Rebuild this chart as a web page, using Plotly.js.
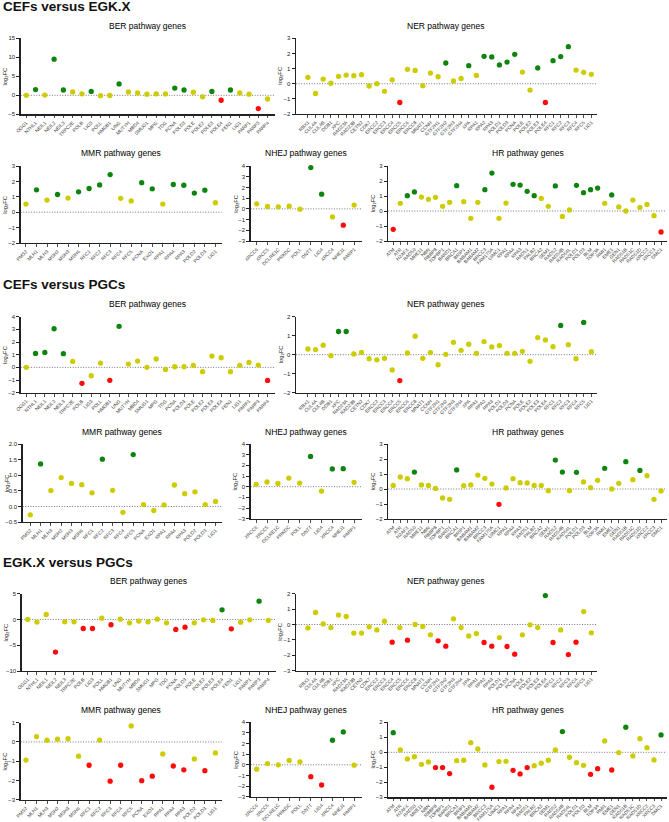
<!DOCTYPE html>
<html><head><meta charset="utf-8">
<script src="https://cdn.plot.ly/plotly-3.0.1.min.js"></script>
<style>html,body{margin:0;padding:0;background:#fff;}#chart{width:669px;height:822px;}</style>
</head><body><div id="chart"></div>
<script>
// ---------------- DATA ----------------
const berGenes = ['OGG1','NTHL1','NEIL1','NEIL2','NEIL3','TRPC2E','POLB','LIG3','POLL','HMGB1','UNG','MUTYH','MBD4','SMUG1','MPG','TDG','PCNA','POLD3','POLE','POLE2','POLE3','POLE4','FEN1','LIG1','PARP1','PARP3','PARP4'];
const nerGenes = ['RBX1','CUL4A','CUL4B','DDB1','XPC','RAD23A','RAD23B','CETN2','CDK7','ERCC2','ERCC3','ERCC4','ERCC5','ERCC6','ERCC8','MNAT1','CCNH','GTF2H1','GTF2H2','GTF2H3','GTF2H4','XPA','RPA1','RPA2','RPA3','POLD1','POLD3','PCNA','POLE','POLE2','POLE3','POLE4','RFC1','RFC2','RFC3','RFC4','RFC5','LIG1'];
const mmrGenes = ['PMS2','MLH1','MLH3','MSH2','MSH3','MSH6','RFC1','RFC2','RFC3','RFC4','RFC5','PCNA','EXO1','RPA1','RPA4','RPA3','POLD2','POLD3','LIG1'];
const nhejGenes = ['XRCC6','XRCC5','DCLRE1C','PRKDC','POLL','DNTT','LIG4','XRCC4','NHEJ1','PARP1'];
const hrGenes = ['ATM','ATR','H2AFX','RAD50','MRE11','NBN','RBBP8','TOPBP1','BARD1','BRCA1','BRIP1','BABAM1','BABAM2','BRCC3','FAM175A','UIMC1','RPA1','RPA4','RPA3','RAD51','PALB2','BRCA2','SEM1','RAD52','RAD54B','RAD54L','POLD1','POLD3','BLM','TOP3A','RMI1','EME1','GEN1','RAD51B','RAD51C','RAD51D','XRCC2','XRCC3','DMC1'];

// CEFs versus EGK.X
const berCefsEgk = [0.0,1.5,0.05,9.5,1.4,0.9,0.4,1.02,-0.1,-0.05,3.0,0.9,0.6,0.3,0.4,0.35,1.9,1.4,0.8,-0.4,1.03,-1.3,1.4,0.6,0.3,-3.5,-0.97];
const nerCefsEgk = [0.42,-0.64,0.31,0.03,0.49,0.57,0.53,0.6,-0.15,0.0,-0.5,0.26,-1.24,0.95,0.88,-0.13,0.7,0.46,1.37,0.18,0.35,1.19,0.55,1.81,1.77,1.24,1.43,1.94,0.77,-0.42,1.04,-1.24,1.52,1.79,2.45,0.9,0.75,0.62];
const mmrCefsEgk = [0.53,1.45,0.79,1.15,0.92,1.32,1.54,1.77,2.44,0.9,0.73,1.92,1.52,0.53,1.8,1.75,1.24,1.43,0.62];
const nhejCefsEgk = [0.47,0.22,0.19,0.25,-0.03,3.85,1.37,-0.75,-1.52,0.35];
const hrCefsEgk = [-1.22,0.51,1.02,1.27,0.93,0.78,0.91,0.31,0.58,1.69,0.62,-0.49,0.58,1.42,2.53,-0.49,0.53,1.78,1.73,1.31,1.02,0.84,0.31,1.67,-0.36,0.07,1.71,1.22,1.42,1.53,0.51,1.07,0.27,0.0,0.73,0.24,0.44,-0.31,-1.4];

// CEFs versus PGCs
const berCefsPgc = [0.0,1.1,1.18,3.05,1.08,0.47,-1.26,-0.66,0.34,-1.02,3.24,0.26,0.5,0.0,0.66,-0.16,0.05,0.05,0.16,-0.34,0.89,0.76,-0.34,0.16,0.39,0.18,-1.03];
const nerCefsPgc = [0.3,0.27,0.5,-0.05,1.22,1.22,0.04,0.12,-0.21,-0.27,-0.19,-0.8,-1.36,0.09,0.97,-0.19,0.11,-0.53,0.02,0.65,0.23,0.55,0.07,0.69,0.41,0.48,0.07,0.07,0.18,-0.35,0.9,0.78,0.42,1.54,0.53,-0.21,1.7,0.16];
const mmrCefsPgc = [-0.27,1.37,0.51,0.93,0.74,0.7,0.44,1.52,0.52,-0.19,1.67,0.06,-0.13,0.05,0.69,0.41,0.47,0.06,0.16];
const nhejCefsPgc = [0.22,0.44,0.31,0.81,0.34,2.84,-0.41,1.66,1.69,0.41];
const hrCefsPgc = [0.24,0.8,0.69,1.13,0.27,0.24,0.04,-0.6,-0.69,1.27,0.22,0.27,0.93,0.71,0.33,-1.02,0.07,0.69,0.42,0.4,0.24,0.24,-0.11,1.93,1.13,-0.11,1.11,0.47,0.09,0.58,1.38,0.0,0.38,1.82,0.62,1.24,0.89,-0.69,-0.13];

// EGK.X versus PGCs
const berEgkPgc = [0.0,-0.5,0.97,-6.33,-0.45,-0.45,-1.75,-1.75,0.26,-1.03,0.06,-0.65,-0.32,-0.45,0.06,-0.65,-1.94,-1.49,-0.65,-0.06,-0.19,1.87,-1.81,-0.52,-0.06,3.55,-0.19];
const nerEgkPgc = [-0.22,0.78,0.04,-0.2,0.61,0.52,-0.56,-0.56,-0.15,-0.35,0.21,-1.15,-0.2,-1.02,0.0,-0.13,-0.67,-1.06,-1.41,0.37,-0.2,-0.74,-0.59,-1.17,-1.41,-0.85,-1.43,-1.93,-0.67,-0.02,-0.2,1.88,-1.17,-0.35,-1.95,-1.15,0.84,-0.54];
const mmrEgkPgc = [-0.94,0.28,0.09,0.14,0.17,-0.74,-1.21,0.1,-2.04,-1.21,0.83,-2.01,-1.78,-0.62,-1.25,-1.45,-0.88,-1.49,-0.57];
const nhejEgkPgc = [-0.41,0.12,0.0,0.41,0.28,-1.12,-1.9,2.31,3.09,-0.03];
const hrEgkPgc = [1.31,0.16,-0.44,-0.29,-0.8,-0.64,-1.02,-1.02,-1.42,-0.56,-0.53,0.64,0.22,-0.84,-2.33,-0.62,-0.6,-1.2,-1.44,-1.02,-0.89,-0.73,-0.53,0.16,1.38,-0.33,-0.69,-0.87,-1.47,-1.09,0.76,-1.18,-0.02,1.67,-0.24,0.91,0.31,-0.51,1.16];

const sectionTitles = ['CEFs versus EGK.X','CEFs versus PGCs','EGK.X versus PGCs'];
const yTitle = 'log\u2082FC';

// ---------------- LAYOUT ----------------
const W = 669, H = 822;
const FONT = 'Arial, "Liberation Sans", Helvetica, sans-serif';
const GREEN = '#0d850d', YELLOW = '#cccc00', RED = '#ff0a0a';
function colorOf(v){ return v >= 1 ? GREEN : (v <= -1 ? RED : YELLOW); }

// box: [xLeft, xRight, yTop, yBottom] in px
const panels = [
  {g:berGenes, v:berCefsEgk, t:'BER pathway genes', box:[20.7,275,38.3,114.3], yr:[-5,15], dt:5, xr:[-0.6,26.8]},
  {g:nerGenes, v:nerCefsEgk, t:'NER pathway genes', box:[296,596.7,38.3,114], yr:[-2,3], dt:1, xr:[-1.55,37.7]},
  {g:mmrGenes, v:mmrCefsEgk, t:'MMR pathway genes', box:[20.7,221.7,166,243], yr:[-2,3], dt:1, xr:[-0.5,18.6]},
  {g:nhejGenes, v:nhejCefsEgk, t:'NHEJ pathway genes', box:[250.7,361.7,166,241], yr:[-3,4], dt:1, xr:[-0.55,9.7]},
  {g:hrGenes, v:hrCefsEgk, t:'HR pathway genes', box:[388.3,666.7,166,241], yr:[-2,3], dt:1, xr:[-0.7,38.8]},
  {g:berGenes, v:berCefsPgc, t:'BER pathway genes', box:[20.7,275,316.7,392.7], yr:[-2,4], dt:1, xr:[-0.6,26.8]},
  {g:nerGenes, v:nerCefsPgc, t:'NER pathway genes', box:[296,596.7,316.7,392.7], yr:[-2,2], dt:1, xr:[-1.55,37.7]},
  {g:mmrGenes, v:mmrCefsPgc, t:'MMR pathway genes', box:[22.7,221.7,444.3,522], yr:[-0.5,2.0], dt:0.5, xr:[-0.74,18.6], fmt:'.1f'},
  {g:nhejGenes, v:nhejCefsPgc, t:'NHEJ pathway genes', box:[250.7,361.7,444,518.7], yr:[-3,4], dt:1, xr:[-0.5,9.7]},
  {g:hrGenes, v:hrCefsPgc, t:'HR pathway genes', box:[388.3,666.7,444,519], yr:[-2,3], dt:1, xr:[-0.7,38.8]},
  {g:berGenes, v:berEgkPgc, t:'BER pathway genes', box:[21.7,276,593.7,671], yr:[-10,5], dt:5, xr:[-0.65,26.83]},
  {g:nerGenes, v:nerEgkPgc, t:'NER pathway genes', box:[296,596.7,593.7,670.7], yr:[-3,2], dt:1, xr:[-1.55,37.7]},
  {g:mmrGenes, v:mmrEgkPgc, t:'MMR pathway genes', box:[20.7,221.7,722.7,799.7], yr:[-3,1], dt:1, xr:[-0.5,18.6]},
  {g:nhejGenes, v:nhejEgkPgc, t:'NHEJ pathway genes', box:[250.7,361.7,722.3,796.7], yr:[-3,4], dt:1, xr:[-0.55,9.7]},
  {g:hrGenes, v:hrEgkPgc, t:'HR pathway genes', box:[388.3,666.7,722.3,797.3], yr:[-3,2], dt:1, xr:[-0.7,38.8]}
];

const data = [];
const layout = {
  width: W, height: H, margin:{l:0,r:0,t:0,b:0},
  paper_bgcolor:'#fff', plot_bgcolor:'rgba(0,0,0,0)',
  showlegend:false, font:{family:FONT, color:'#111'},
  shapes:[], annotations:[]
};

panels.forEach((p, i) => {
  const k = i + 1;
  const xs = k === 1 ? '' : String(k);
  const [xl, xrp, yt, yb] = p.box;
  data.push({
    type:'scatter', mode:'markers', x:p.g, y:p.v,
    xaxis:'x'+xs, yaxis:'y'+xs,
    marker:{size:5.3, color:p.v.map(colorOf), line:{width:0}},
    hoverinfo:'x+y', cliponaxis:false
  });
  layout['xaxis'+xs] = {
    domain:[xl/W, xrp/W], anchor:'y'+xs, type:'category',
    categoryorder:'array', categoryarray:p.g, range:p.xr,
    tickmode:'array', tickvals:p.g, ticktext:p.g, tickangle:-45,
    tickfont:{size:4.8, color:'#444', family:FONT},
    ticks:'outside', ticklen:2.5, tickwidth:0.8, tickcolor:'#222',
    showline:true, linewidth:1.4, linecolor:'#222',
    showgrid:false, zeroline:false, fixedrange:true
  };
  layout['yaxis'+xs] = {
    domain:[1 - yb/H, 1 - yt/H], anchor:'x'+xs, range:p.yr,
    tickmode:'linear', tick0:0, dtick:p.dt, tickformat:p.fmt || '',
    tickfont:{size:6, color:'#222', family:FONT},
    ticks:'outside', ticklen:3, tickwidth:1, tickcolor:'#222',
    showline:true, linewidth:1.4, linecolor:'#222',
    showgrid:false, zeroline:false, fixedrange:true
  };
  layout.shapes.push({
    type:'line', xref:'x'+xs+' domain', yref:'y'+xs, x0:0, x1:1, y0:0, y1:0,
    line:{color:'#777', width:1, dash:'1px,1.6px'}, layer:'below'
  });
  layout.annotations.push({
    text:p.t, xref:'paper', yref:'paper', x:((xl+xrp)/2)/W, y:1-(yt-12.5)/H,
    xanchor:'center', yanchor:'middle', showarrow:false,
    font:{size:8.5, color:'#000', family:FONT}
  });
  layout.annotations.push({
    text:yTitle, xref:'paper', yref:'paper', x:(xl-15.5)/W, y:1-((yt+yb)/2)/H,
    xanchor:'center', yanchor:'middle', showarrow:false, textangle:-90,
    font:{size:5.8, color:'#222', family:FONT}
  });
});

const sectionY = [6.5, 284, 562];
sectionTitles.forEach((s, i) => {
  layout.annotations.push({
    text:'<b>'+s+'</b>', xref:'paper', yref:'paper', x:1/W, y:1-sectionY[i]/H,
    xanchor:'left', yanchor:'middle', showarrow:false,
    font:{size:13.5, color:'#111', family:FONT}
  });
});

Plotly.newPlot('chart', data, layout, {displayModeBar:false, staticPlot:true});
</script></body></html>
